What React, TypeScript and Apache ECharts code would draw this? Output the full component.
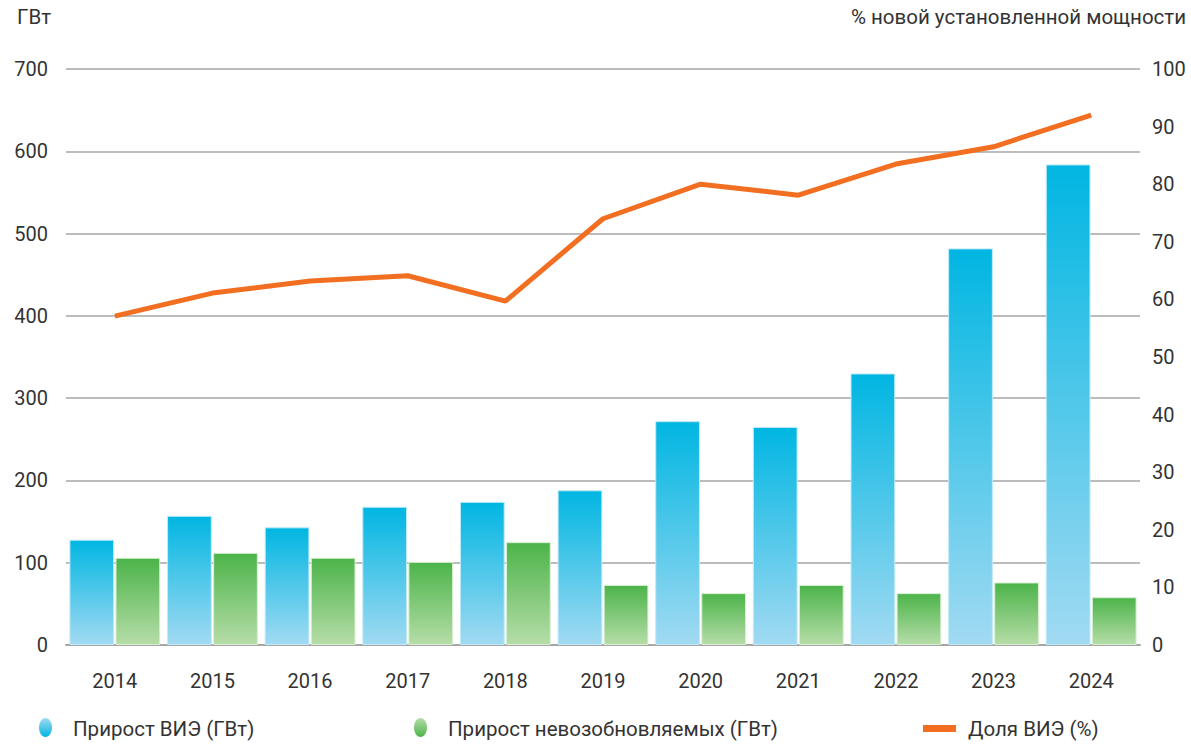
import React, { useEffect, useRef } from "react";
import * as echarts from "echarts";

const years = ["2014", "2015", "2016", "2017", "2018", "2019", "2020", "2021", "2022", "2023", "2024"];
const renewableGW = [128, 157, 143, 168, 174, 188, 272, 265, 330, 482, 584];
const nonRenewableGW = [106, 112, 106, 101, 125, 73, 63, 73, 63, 76, 58];
const renewableShare = [57.1, 61.1, 63.2, 64.1, 59.7, 74.0, 80.0, 78.1, 83.5, 86.5, 92.0];

const seriesNames = ["Прирост ВИЭ (ГВт)", "Прирост невозобновляемых (ГВт)", "Доля ВИЭ (%)"];
const leftAxisTitle = "ГВт";
const rightAxisTitle = "% новой установленной мощности";

const FONT = "Roboto, 'Noto Sans', sans-serif";
const TEXT = "#333333";

export default function App() {
  const ref = useRef<HTMLDivElement>(null);
  useEffect(() => {
    if (!ref.current) return;
    const chart = echarts.init(ref.current, undefined, { renderer: "svg" });
    const blue = new echarts.graphic.LinearGradient(0, 0, 0, 1, [
      { offset: 0, color: "#00B6E2" },
      { offset: 1, color: "#A2DAF2" },
    ]);
    const green = new echarts.graphic.LinearGradient(0, 0, 0, 1, [
      { offset: 0, color: "#4CB44A" },
      { offset: 1, color: "#B6DDA8" },
    ]);
    const blueIcon = new echarts.graphic.LinearGradient(0, 0, 0, 1, [
      { offset: 0, color: "#A2DAF2" },
      { offset: 1, color: "#00B6E2" },
    ]);
    const greenIcon = new echarts.graphic.LinearGradient(0, 0, 0, 1, [
      { offset: 0, color: "#B6DDA8" },
      { offset: 1, color: "#4CB44A" },
    ]);
    const legendText = (pad: number) => ({ fontFamily: FONT, fontSize: 20.5, color: TEXT, padding: [0, 0, 0, pad] });
    chart.setOption({
      animation: false,
      textStyle: { fontFamily: FONT },
      grid: { left: 66, right: 51, top: 69, bottom: 100, containLabel: false },
      graphic: [
        { type: "text", left: 17, top: 6, style: { text: leftAxisTitle, fontFamily: FONT, fontSize: 20.5, fill: TEXT } },
        { type: "text", right: 5, top: 6, style: { text: rightAxisTitle, fontFamily: FONT, fontSize: 20.5, fill: TEXT } },
        { type: "ellipse", left: 39, top: 718, shape: { cx: 0, cy: 0, rx: 6.5, ry: 9.5 }, style: { fill: blueIcon } },
        { type: "ellipse", left: 414, top: 718, shape: { cx: 0, cy: 0, rx: 6.5, ry: 9.5 }, style: { fill: greenIcon } },
      ],
      legend: [
        { bottom: 1, left: 39, data: [{ name: seriesNames[0], icon: "rect", itemStyle: { opacity: 0 } }], itemWidth: 13, itemHeight: 19, textStyle: legendText(10) },
        { bottom: 1, left: 414, data: [{ name: seriesNames[1], icon: "rect", itemStyle: { opacity: 0 } }], itemWidth: 13, itemHeight: 19, textStyle: legendText(10) },
        { bottom: 1, left: 918, data: [{ name: seriesNames[2], icon: "rect" }], itemWidth: 33, itemHeight: 7, textStyle: legendText(7) },
      ],
      xAxis: {
        type: "category",
        data: years,
        axisTick: { show: false },
        axisLine: { show: true, lineStyle: { color: "#a6a6a6", width: 2 } },
        axisLabel: { color: TEXT, fontSize: 20, margin: 26, fontFamily: FONT },
      },
      yAxis: [
        {
          type: "value",
          min: 0,
          max: 700,
          interval: 100,
          axisLine: { show: false },
          axisTick: { show: false },
          axisLabel: { color: TEXT, fontSize: 20, margin: 18, fontFamily: FONT },
          splitLine: { lineStyle: { color: "#a6a6a6", width: 1.5 } },
        },
        {
          type: "value",
          min: 0,
          max: 100,
          interval: 10,
          position: "right",
          axisLine: { show: false },
          axisTick: { show: false },
          axisLabel: { color: TEXT, fontSize: 20, margin: 12, fontFamily: FONT },
          splitLine: { show: false },
        },
      ],
      series: [
        {
          name: seriesNames[0],
          type: "bar",
          data: renewableGW,
          barGap: "3%",
          barCategoryGap: "7%",
          itemStyle: { color: blue, borderColor: "#bfeaf8", borderWidth: 1 },
        },
        {
          name: seriesNames[1],
          type: "bar",
          data: nonRenewableGW,
          itemStyle: { color: green, borderColor: "#d8efd0", borderWidth: 1 },
        },
        {
          name: seriesNames[2],
          type: "line",
          yAxisIndex: 1,
          data: renewableShare,
          showSymbol: false,
          symbol: "none",
          lineStyle: { color: "#F26F21", width: 5 },
          itemStyle: { color: "#F26F21" },
          z: 5,
        },
      ],
    });
    return () => chart.dispose();
  }, []);
  return <div ref={ref} style={{ width: 1191, height: 745, position: "absolute", left: 0, top: 0 }} />;
}
